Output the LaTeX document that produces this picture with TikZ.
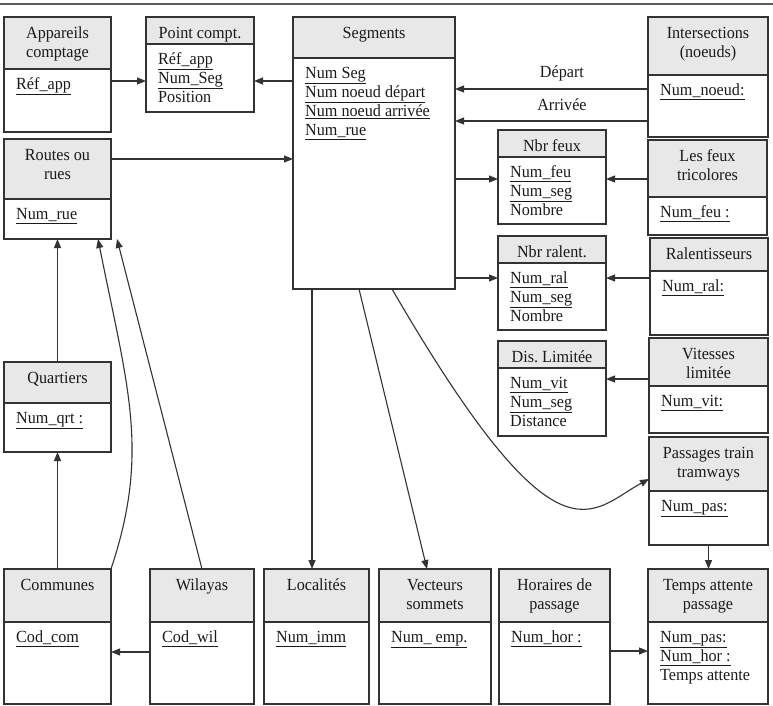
\documentclass[tikz,border=0pt]{standalone}
\usepackage{fontspec}
\setmainfont{Liberation Serif}[FakeStretch=0.95]
\usetikzlibrary{arrows.meta}
\definecolor{hdr}{HTML}{E8E8E8}
\definecolor{ln}{HTML}{333333}
\definecolor{txt}{HTML}{1A1A1A}
\newcommand{\entfont}{\fontsize{17}{19}\selectfont\frenchspacing}
\tikzset{
  entbox/.style={draw=ln, line width=1.1pt, inner sep=0pt, outer sep=0pt},
  htext/.style={anchor=north, align=center, inner sep=0pt, font=\entfont, text=txt},
  btext/.style={anchor=north west, align=left, inner sep=0pt, font=\entfont, text=txt},
  arr/.style={draw=ln, line width=1.1pt, -{Triangle[length=9pt,width=7pt]}},
  lbl/.style={anchor=base, inner sep=0pt, font=\entfont, text=txt},
}
% #1 name, #2 x1, #3 y1, #4 x2, #5 header bottom, #6 y2, #7 header, #8 body
\newcommand{\ent}[8]{%
  \fill[hdr] (#2,#3) rectangle (#4,#5);
  \draw[ln, line width=1.1pt] (#2,#5) -- (#4,#5);
  \node[entbox, anchor=north west, minimum width={(#4-#2)*1pt}, minimum height={(#6-#3)*1pt}] (#1) at (#2,#3) {};
  \node[htext] (#1-h) at ({(#2+#4)/2},{#3+7.7}) {\strut #7};
  \node[btext] (#1-b) at ({#2+12},{#5+6.7}) {\strut #8};
}
\begin{document}
\frenchspacing
\begin{tikzpicture}[x=1pt,y=-1pt]
\useasboundingbox (0,0) rectangle (773,705);
\draw[draw=ln!80, line width=2pt] (0,4) -- (773,4);

\ent{app}{4}{17}{111}{69}{132}{Appareils\\comptage}{\underline{Réf\_app}}
\ent{pc}{146}{17}{254}{44}{112}{Point compt.}{\underline{Réf\_app}\\\underline{Num\_Seg}\\Position}
\ent{seg}{293}{17}{455}{58}{289}{Segments}{\underline{Num Seg}\\\underline{Num noeud départ}\\\underline{Num noeud arrivée}\\\underline{Num\_rue}}
\ent{inter}{648}{17}{768}{75}{137}{Intersections\\(noeuds)}{\underline{Num\_noeud:}}
\ent{rues}{4}{139}{111}{199}{239}{Routes ou\\rues}{\underline{Num\_rue}}
\ent{nfeu}{498}{130}{606}{157}{224}{Nbr feux}{\underline{Num\_feu}\\\underline{Num\_seg}\\Nombre}
\ent{tric}{648}{140}{767}{197}{235}{Les feux\\tricolores}{\underline{Num\_feu :}}
\ent{nral}{498}{236}{606}{263}{330}{Nbr ralent.}{\underline{Num\_ral}\\\underline{Num\_seg}\\Nombre}
\ent{ral}{650}{238}{768}{271}{335}{Ralentisseurs}{\underline{Num\_ral:}}
\ent{dis}{498}{341}{606}{368}{436}{Dis. Limitée}{\underline{Num\_vit}\\\underline{Num\_seg}\\Distance}
\ent{vit}{649}{338}{768}{386}{433}{Vitesses\\limitée}{\underline{Num\_vit:}}
\ent{pas}{649}{437}{768}{491}{545}{Passages train\\tramways}{\underline{Num\_pas:}}
\ent{qrt}{4}{362}{111}{403}{452}{Quartiers}{\underline{Num\_qrt :}}
\ent{com}{4}{569}{111}{622}{704}{Communes}{\underline{Cod\_com}}
\ent{wil}{150}{569}{254}{622}{704}{Wilayas}{\underline{Cod\_wil}}
\ent{loc}{264}{569}{369}{622}{704}{Localités}{\underline{Num\_imm}}
\ent{vec}{379}{569}{491}{622}{704}{Vecteurs\\sommets}{\underline{Num\_ emp.}}
\ent{hor}{499}{569}{610}{622}{704}{Horaires de\\passage}{\underline{Num\_hor :}}
\ent{tmp}{648}{569}{768}{622}{704}{Temps attente\\passage}{\underline{Num\_pas:}\\\underline{Num\_hor :}\\Temps attente}

% connectors
\draw[arr] ([yshift=-64pt]app.north east) -- ([yshift=-64pt]pc.north west);
\draw[arr] ([yshift=-64pt]seg.north west) -- ([yshift=-64pt]pc.north east);
\draw[arr] ([yshift=-20pt]rues.north east) -- ([yshift=-142pt]seg.north west);
\draw[arr] ([yshift=-72pt]inter.north west) -- node[lbl, pos=0.446, yshift=12pt] (ldep) {Départ} ([yshift=-72pt]seg.north east);
\draw[arr] ([yshift=-104pt]inter.north west) -- node[lbl, pos=0.446, yshift=11pt] (larr) {Arrivée} ([yshift=-104pt]seg.north east);
\draw[arr] ([yshift=-162pt]seg.north east) -- ([yshift=-49pt]nfeu.north west);
\draw[arr] ([yshift=-39pt]tric.north west) -- ([yshift=-49pt]nfeu.north east);
\draw[arr] ([yshift=-261pt]seg.north east) -- ([yshift=-42pt]nral.north west);
\draw[arr] ([yshift=-40pt]ral.north west) -- ([yshift=-42pt]nral.north east);
\draw[arr] ([yshift=-41pt]vit.north west) -- ([yshift=-38pt]dis.north east);
\draw[arr] ([xshift=99pt]seg.south west) .. controls (558,575) and (590,511) .. ([yshift=-42pt]pas.north west);
\draw[arr] (pas.south) -- (pas.south |- tmp.north);
\draw[arr] ([yshift=-82pt]hor.north east) -- ([yshift=-82pt]tmp.north west);
\draw[arr] ([xshift=19pt]seg.south west) -- ([xshift=48pt]loc.north west);
\draw[arr] ([xshift=66pt]seg.south west) -- ([xshift=48pt]vec.north west);
\draw[arr] ([yshift=-83pt]wil.north west) -- ([yshift=-83pt]com.north east);
\draw[arr] (com.north) -- (qrt.south);
\draw[arr] (qrt.north) -- (rues.south);
\draw[arr] (com.north east) .. controls (150,452) and (128,389) .. ([xshift=-13pt]rues.south east);
\draw[arr] ([xshift=52pt]wil.north west) -- ([xshift=6pt]rues.south east);
\end{tikzpicture}
\end{document}
